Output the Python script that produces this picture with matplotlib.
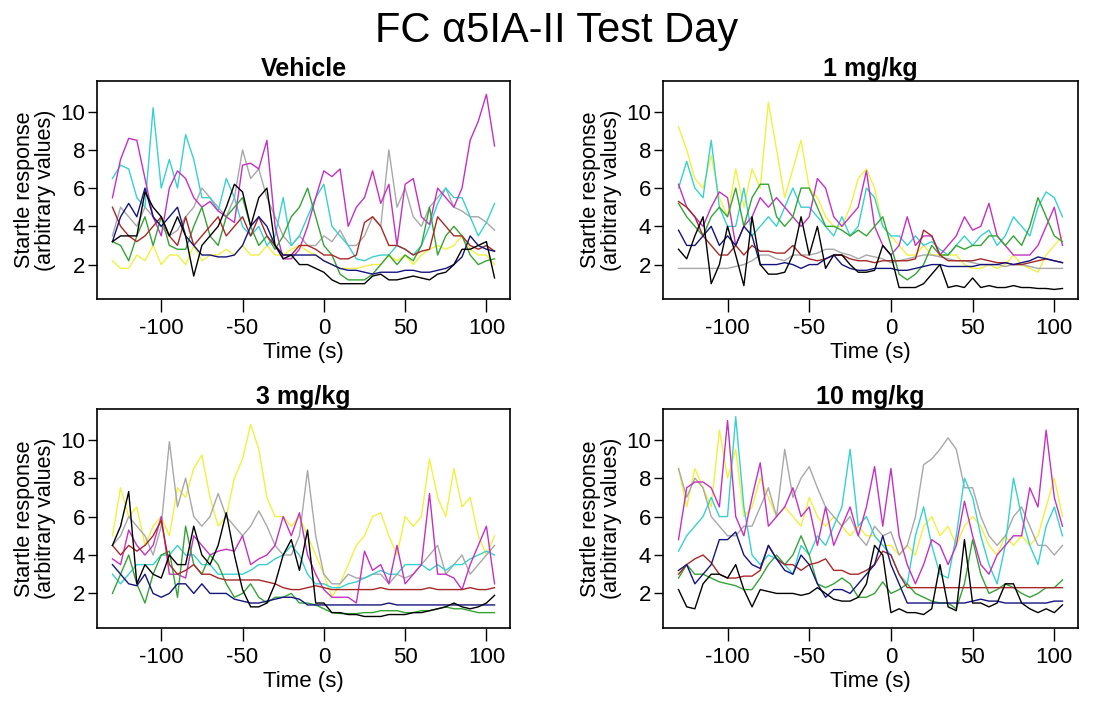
import numpy as np
import matplotlib
matplotlib.use("Agg")
import matplotlib.pyplot as plt

plt.rcParams['font.family'] = ['Liberation Sans', 'DejaVu Sans']
plt.rcParams['axes.unicode_minus'] = False
narrow = ['Liberation Sans Narrow', 'Liberation Sans', 'DejaVu Sans']

# time axis (s), one sample every 5 s
time_s = list(range(-130, 106, 5))

panel_titles = ["Vehicle", "1 mg/kg", "3 mg/kg", "10 mg/kg"]
series_names = ["yellow", "grey", "cyan", "magenta", "green", "darkred", "navy", "black"]
series_colors = ["#F2F040", "#A8A8A8", "#38D0D0", "#C232C2", "#36A336", "#A82828", "#14147E", "#000000"]

# ---- Vehicle ----
veh_yellow = [2.2, 1.8, 1.8, 2.5, 2.2, 3.0, 2.0, 2.5, 2.5, 2.0, 3.0, 2.2, 2.5, 2.5, 2.8, 2.5,
              3.0, 2.5, 2.5, 3.0, 2.5, 2.5, 2.8, 3.0, 2.7, 2.5, 2.2, 2.0, 1.8, 1.8, 1.8, 1.9,
              2.0, 2.0, 2.5, 2.2, 2.5, 2.0, 2.5, 2.8, 3.0, 2.8, 3.0, 3.5, 2.8, 2.5, 2.5, 2.0]
veh_grey = [3.5, 5.0, 4.5, 4.0, 5.0, 4.5, 4.0, 3.5, 3.8, 4.5, 5.0, 6.0, 5.5, 5.0, 4.5, 5.5,
            8.0, 6.5, 7.0, 5.5, 4.5, 3.5, 3.0, 3.5, 3.0, 3.0, 3.5, 3.2, 3.8, 3.0, 3.0, 3.5,
            4.5, 4.0, 8.0, 5.0, 6.0, 4.5, 4.0, 5.0, 5.5, 6.0, 5.0, 4.8, 4.5, 4.5, 4.2, 3.8]
veh_cyan = [6.5, 7.2, 7.0, 5.5, 5.0, 10.2, 6.0, 7.5, 6.0, 8.8, 7.5, 5.5, 5.5, 4.8, 6.5, 5.5,
            4.0, 3.5, 4.0, 3.0, 3.5, 5.5, 3.0, 3.5, 4.5, 5.5, 6.2, 4.0, 3.5, 3.0, 2.3, 2.2,
            2.4, 2.5, 2.5, 3.0, 2.8, 2.5, 3.0, 4.0, 5.2, 6.0, 5.5, 5.5, 4.5, 3.5, 4.2, 5.2]
veh_magenta = [5.5, 7.5, 8.6, 8.5, 6.5, 4.5, 3.5, 6.0, 6.9, 6.5, 5.5, 5.0, 5.3, 4.8, 4.5, 4.2,
               7.2, 7.3, 7.0, 8.5, 4.0, 2.3, 2.3, 2.8, 4.0, 5.5, 6.9, 6.6, 7.0, 4.0, 5.0, 5.5,
               6.9, 5.2, 6.2, 3.0, 6.2, 6.5, 4.5, 4.1, 6.0, 5.5, 5.0, 6.0, 8.5, 9.5, 10.9, 8.2]
veh_green = [3.2, 3.0, 2.2, 3.5, 4.5, 3.0, 4.5, 3.0, 2.8, 2.8, 4.0, 5.0, 3.5, 3.0, 4.5, 5.0,
             5.5, 4.0, 3.0, 3.5, 2.8, 3.5, 4.5, 5.0, 6.0, 4.5, 3.0, 2.5, 1.5, 1.2, 1.2, 1.2,
             1.5, 2.0, 2.5, 2.0, 2.5, 2.2, 3.0, 5.0, 2.5, 3.5, 4.0, 3.5, 2.5, 2.0, 2.2, 2.3]
veh_darkred = [5.0, 4.0, 3.5, 3.2, 3.5, 4.0, 4.5, 3.5, 3.0, 4.5, 3.0, 3.5, 4.0, 4.5, 3.5, 4.0,
               4.5, 3.5, 4.5, 3.5, 3.0, 2.5, 2.5, 3.0, 3.0, 2.8, 2.5, 2.5, 2.3, 2.3, 2.5, 4.2,
               4.5, 4.0, 3.0, 3.0, 2.8, 2.5, 2.7, 2.8, 4.5, 4.0, 3.5, 3.5, 3.0, 2.8, 3.0, 2.7]
veh_navy = [3.2, 4.5, 5.2, 4.5, 6.0, 4.5, 4.0, 4.5, 5.0, 3.5, 3.0, 2.5, 2.5, 2.4, 2.4, 2.5,
            3.0, 4.0, 4.5, 4.0, 3.0, 2.5, 2.5, 2.5, 2.5, 2.5, 2.2, 2.0, 1.8, 1.7, 1.7, 1.6,
            1.5, 1.6, 1.6, 1.6, 1.7, 1.7, 1.6, 1.6, 1.7, 1.8, 2.0, 2.4, 3.5, 3.0, 2.8, 2.7]
veh_black = [3.2, 3.5, 3.5, 3.5, 5.8, 5.0, 4.5, 3.5, 4.5, 3.5, 1.4, 3.0, 3.5, 4.0, 5.0, 6.2,
             5.8, 4.0, 5.5, 6.0, 3.0, 2.3, 2.5, 2.0, 2.0, 1.8, 1.6, 1.2, 1.0, 1.0, 1.0, 1.0,
             1.4, 1.5, 1.2, 1.2, 1.3, 1.4, 1.3, 1.2, 1.5, 1.6, 2.0, 2.8, 2.8, 3.0, 3.2, 1.3]

# ---- 1 mg/kg ----
d1_yellow = [9.2, 8.0, 6.5, 6.0, 7.7, 5.5, 4.5, 7.0, 5.0, 7.0, 6.0, 10.5, 8.0, 5.5, 7.0, 8.5,
             6.0, 5.5, 4.5, 4.0, 4.0, 5.0, 6.5, 7.0, 6.0, 4.0, 3.5, 3.0, 2.5, 2.5, 3.0, 2.5,
             2.5, 2.5, 2.5, 2.0, 1.8, 1.8, 2.0, 1.8, 2.0, 2.5, 2.0, 1.8, 1.6, 2.5, 3.0, 3.5]
d1_grey = [1.8, 1.8, 1.8, 1.8, 1.8, 1.8, 1.8, 1.9, 2.0, 2.2, 2.5, 2.5, 2.3, 2.2, 2.5, 2.5,
           2.5, 2.6, 2.8, 2.8, 2.6, 2.5, 2.3, 2.5, 2.4, 2.3, 2.1, 2.2, 2.3, 2.4, 2.5, 2.5,
           2.4, 2.3, 2.2, 2.2, 2.1, 2.0, 2.0, 2.0, 1.9, 2.0, 2.0, 1.9, 1.8, 1.8, 1.8, 1.8]
d1_cyan = [6.0, 7.4, 6.0, 5.5, 8.5, 5.0, 4.0, 4.0, 6.0, 3.5, 4.0, 4.5, 4.0, 5.0, 6.0, 5.0,
           5.0, 4.5, 4.0, 3.5, 4.5, 3.5, 4.0, 6.0, 5.5, 4.0, 3.5, 3.5, 3.0, 3.5, 3.0, 3.2,
           2.8, 2.5, 3.0, 3.5, 3.0, 3.5, 3.8, 3.0, 3.5, 4.5, 4.0, 3.5, 5.0, 5.8, 5.5, 4.5]
d1_magenta = [6.2, 5.0, 4.5, 4.0, 5.0, 5.8, 5.5, 3.0, 4.0, 4.5, 5.5, 5.0, 5.5, 5.0, 4.5, 4.0,
              4.5, 6.5, 6.0, 4.5, 4.0, 4.5, 5.0, 6.9, 4.0, 3.0, 2.5, 3.0, 4.5, 3.0, 3.5, 3.5,
              2.5, 3.0, 3.5, 4.5, 3.8, 4.0, 5.2, 3.5, 3.0, 2.5, 2.5, 2.5, 3.0, 4.0, 5.0, 3.0]
d1_green = [5.2, 4.5, 4.0, 3.5, 4.5, 5.0, 4.5, 6.0, 4.0, 5.5, 6.2, 6.2, 4.5, 4.0, 4.5, 6.0,
            6.0, 5.0, 4.0, 4.0, 3.8, 3.5, 3.8, 3.5, 4.0, 4.5, 3.0, 1.5, 1.2, 1.5, 2.0, 3.0,
            2.5, 2.5, 3.0, 2.8, 3.0, 3.0, 3.5, 3.5, 3.0, 3.5, 3.0, 4.0, 5.5, 4.5, 3.5, 3.2]
d1_darkred = [5.3, 5.0, 4.5, 3.5, 3.0, 2.5, 2.5, 3.0, 2.5, 3.0, 2.7, 2.7, 2.6, 2.6, 3.0, 2.5,
              2.3, 2.2, 2.3, 2.5, 2.5, 2.3, 2.2, 2.2, 2.1, 2.2, 2.2, 2.2, 2.2, 2.3, 3.8, 3.5,
              2.5, 2.2, 2.2, 2.2, 2.2, 2.3, 2.2, 2.1, 2.1, 2.0, 2.0, 2.1, 2.2, 2.3, 2.2, 2.1]
d1_navy = [3.8, 3.0, 3.0, 3.5, 4.0, 3.0, 3.5, 3.0, 4.0, 3.5, 2.0, 2.0, 2.0, 2.1, 2.0, 1.8,
           2.0, 2.0, 2.3, 2.5, 2.0, 1.8, 1.7, 1.7, 1.8, 1.8, 1.8, 1.7, 1.7, 1.8, 1.9, 2.0,
           2.0, 1.9, 1.9, 1.9, 1.9, 2.0, 2.0, 2.0, 2.1, 2.0, 2.1, 2.2, 2.4, 2.3, 2.2, 2.1]
d1_black = [2.8, 2.3, 3.5, 4.5, 1.0, 2.0, 4.0, 2.5, 0.9, 4.5, 2.0, 1.5, 1.5, 1.6, 2.5, 4.5,
            2.5, 4.0, 1.8, 2.5, 2.5, 2.0, 1.6, 1.6, 1.7, 3.0, 2.5, 0.8, 0.8, 0.8, 1.0, 1.5,
            2.0, 0.8, 0.9, 0.8, 1.3, 0.8, 0.9, 0.8, 0.8, 0.9, 0.8, 0.8, 0.75, 0.75, 0.7, 0.75]

# ---- 3 mg/kg ----
d3_yellow = [5.0, 7.5, 6.0, 6.5, 4.5, 5.5, 6.0, 5.0, 7.5, 7.0, 8.5, 9.2, 7.0, 5.5, 6.0, 8.0,
             9.0, 10.8, 9.5, 7.0, 6.0, 6.0, 5.5, 6.0, 5.0, 4.0, 3.0, 1.8, 2.5, 3.5, 4.5, 5.0,
             6.0, 6.2, 5.0, 4.0, 6.0, 5.5, 6.0, 9.0, 7.0, 6.0, 8.5, 6.5, 7.0, 5.0, 4.0, 5.0]
d3_grey = [4.5, 5.0, 6.0, 5.5, 5.0, 4.0, 5.5, 9.9, 6.5, 8.0, 6.0, 5.5, 6.0, 7.2, 6.0, 5.5,
           5.0, 5.5, 6.3, 5.5, 4.5, 4.0, 4.0, 5.0, 8.4, 5.0, 3.0, 2.5, 2.5, 3.0, 2.8, 2.8,
           3.0, 3.0, 2.5, 3.0, 2.8, 3.0, 3.5, 4.0, 4.5, 3.0, 3.5, 4.0, 3.0, 3.5, 4.0, 4.5]
d3_cyan = [3.0, 2.5, 3.0, 3.5, 3.5, 3.5, 4.0, 4.0, 4.5, 4.0, 4.0, 3.5, 3.5, 3.0, 3.0, 3.0,
           3.0, 3.2, 3.5, 3.5, 3.8, 4.0, 4.5, 4.0, 3.0, 2.5, 2.5, 2.3, 2.3, 2.5, 2.6, 2.8,
           3.0, 3.2, 3.0, 3.0, 3.5, 3.5, 3.5, 3.2, 3.5, 3.2, 3.5, 3.5, 3.8, 4.0, 4.2, 4.0]
d3_magenta = [3.8, 3.5, 5.3, 4.5, 4.0, 4.5, 6.0, 3.0, 3.0, 2.8, 5.0, 4.5, 4.0, 4.2, 4.3, 4.2,
              5.0, 3.5, 3.8, 4.0, 4.5, 6.0, 5.0, 6.2, 4.0, 3.0, 2.2, 1.8, 1.8, 1.8, 1.5, 4.2,
              3.2, 3.5, 2.5, 4.5, 2.5, 3.0, 3.5, 7.2, 3.0, 3.0, 2.8, 2.2, 3.5, 4.5, 5.5, 2.5]
d3_green = [2.0, 3.0, 4.0, 2.5, 1.5, 3.0, 4.0, 4.2, 1.8, 5.5, 3.5, 3.0, 4.0, 3.5, 2.5, 1.8,
            2.0, 2.5, 1.8, 1.5, 1.8, 1.8, 2.0, 1.5, 1.5, 1.4, 1.2, 1.0, 0.95, 0.95, 0.95, 1.0,
            1.0, 1.1, 1.1, 1.1, 1.0, 1.0, 1.1, 1.1, 1.2, 1.3, 1.2, 1.2, 1.1, 1.0, 1.0, 1.0]
d3_darkred = [4.5, 4.0, 4.5, 4.2, 4.5, 5.0, 5.8, 3.5, 3.0, 3.2, 3.5, 3.0, 3.0, 2.8, 2.7, 2.7,
              2.7, 2.7, 2.7, 2.6, 2.5, 2.3, 2.2, 2.2, 2.3, 2.4, 2.3, 2.2, 2.2, 2.2, 2.2, 2.2,
              2.2, 2.3, 2.2, 2.2, 2.2, 2.2, 2.2, 2.3, 2.2, 2.2, 2.2, 2.2, 2.3, 2.2, 2.2, 2.3]
d3_navy = [3.5, 3.0, 2.5, 2.4, 3.0, 2.0, 1.8, 2.0, 2.5, 2.5, 2.0, 2.5, 2.0, 2.0, 2.0, 1.7,
           1.6, 1.5, 1.5, 1.6, 1.7, 1.8, 1.8, 1.7, 1.4, 1.4, 1.4, 1.4, 1.4, 1.4, 1.4, 1.4,
           1.4, 1.4, 1.5, 1.4, 1.4, 1.4, 1.4, 1.4, 1.4, 1.4, 1.4, 1.4, 1.4, 1.4, 1.4, 1.4]
d3_black = [4.5, 5.5, 7.3, 2.5, 3.5, 3.0, 2.8, 4.0, 3.5, 3.5, 5.5, 4.0, 3.5, 4.5, 6.2, 4.0,
            2.2, 1.3, 1.3, 1.5, 2.5, 4.0, 4.8, 3.2, 5.3, 1.5, 1.5, 1.0, 1.0, 0.9, 0.9, 0.8,
            0.8, 0.8, 0.9, 0.9, 0.9, 1.0, 1.0, 1.1, 1.2, 1.3, 1.5, 1.3, 1.2, 1.3, 1.5, 1.9]

# ---- 10 mg/kg ----
d10_yellow = [8.5, 6.5, 8.5, 7.5, 6.5, 10.5, 8.0, 9.5, 6.0, 6.5, 8.0, 7.0, 6.0, 6.5, 6.0, 5.5,
              7.0, 6.0, 5.5, 6.0, 5.5, 5.0, 5.5, 5.0, 5.0, 4.5, 4.5, 4.0, 4.5, 4.0, 5.5, 6.0,
              5.0, 5.5, 4.5, 5.5, 6.0, 5.5, 4.5, 4.0, 5.0, 4.5, 5.0, 4.5, 5.0, 6.5, 8.0, 6.0]
d10_grey = [8.5, 7.0, 8.0, 7.5, 6.0, 5.5, 5.0, 5.0, 5.5, 5.5, 6.5, 7.5, 6.0, 9.5, 7.0, 8.0,
            8.6, 7.5, 6.5, 6.0, 5.5, 6.0, 5.0, 4.5, 5.5, 5.0, 5.2, 4.0, 4.5, 6.0, 8.7, 9.0,
            9.5, 10.1, 9.5, 7.5, 7.5, 6.0, 5.0, 4.5, 5.0, 6.0, 6.5, 5.5, 4.5, 4.5, 4.0, 4.5]
d10_cyan = [4.2, 5.0, 5.5, 6.0, 7.0, 6.0, 6.0, 11.2, 6.5, 4.0, 3.5, 4.0, 3.8, 3.5, 3.0, 4.5,
            4.0, 5.0, 4.5, 5.5, 6.5, 9.5, 5.5, 6.0, 5.0, 4.5, 4.0, 3.0, 2.5, 5.0, 6.5, 4.5,
            3.0, 2.8, 5.0, 8.0, 7.0, 5.0, 3.5, 2.5, 4.5, 8.0, 6.0, 4.5, 3.5, 5.5, 6.5, 5.0]
d10_magenta = [4.8, 7.5, 7.8, 7.8, 7.5, 6.5, 11.0, 6.0, 5.0, 7.0, 8.8, 5.5, 6.0, 6.5, 7.5, 6.0,
               6.5, 4.5, 6.5, 4.5, 5.5, 6.5, 5.0, 6.5, 8.6, 5.5, 8.5, 5.0, 3.5, 2.5, 3.5, 4.8,
               4.5, 3.5, 4.5, 6.8, 5.0, 3.5, 3.0, 4.0, 4.5, 5.0, 5.0, 7.5, 6.5, 10.5, 7.0, 5.5]
d10_green = [2.8, 3.5, 3.0, 3.0, 2.8, 2.6, 2.5, 2.4, 2.2, 2.2, 2.8, 3.5, 4.0, 3.5, 4.0, 5.0,
             4.0, 2.5, 2.3, 2.5, 2.8, 2.5, 1.8, 1.8, 2.0, 2.6, 2.0, 2.2, 2.5, 2.0, 1.8, 1.6,
             1.5, 1.5, 1.2, 2.5, 4.8, 3.0, 2.0, 2.2, 2.5, 2.3, 2.0, 1.8, 2.0, 2.3, 2.3, 2.7]
d10_darkred = [3.0, 3.5, 3.8, 4.0, 3.6, 3.0, 2.8, 2.8, 2.9, 2.9, 3.2, 4.5, 3.8, 3.5, 3.5, 3.2,
               3.5, 3.6, 3.8, 3.2, 3.2, 3.0, 3.0, 3.2, 3.5, 4.2, 4.0, 3.0, 2.3, 2.3, 2.3, 2.3,
               2.3, 2.3, 2.3, 2.3, 2.3, 2.3, 2.3, 2.3, 2.3, 2.3, 2.3, 2.3, 2.3, 2.3, 2.3, 2.3]
d10_navy = [3.2, 3.5, 2.5, 3.0, 3.5, 4.8, 4.8, 5.2, 4.0, 3.5, 3.3, 4.5, 3.8, 3.2, 3.0, 4.0,
            3.5, 2.5, 1.8, 2.2, 2.2, 2.0, 2.5, 3.0, 3.5, 5.0, 3.5, 2.5, 1.5, 1.5, 1.5, 1.5,
            1.5, 1.5, 1.5, 1.5, 1.6, 1.7, 1.6, 1.6, 1.5, 1.5, 1.5, 1.5, 1.5, 1.5, 1.6, 1.6]
d10_black = [2.2, 1.3, 1.2, 2.5, 3.0, 3.0, 2.8, 3.5, 2.2, 1.3, 2.2, 2.1, 2.0, 2.0, 2.0, 1.9,
             2.0, 2.3, 2.0, 1.7, 1.6, 1.6, 1.8, 2.5, 4.5, 4.0, 1.0, 1.2, 1.0, 1.0, 0.9, 1.2,
             3.5, 1.3, 1.1, 4.8, 1.5, 1.5, 1.3, 1.5, 2.5, 2.5, 1.5, 1.2, 1.0, 1.2, 1.0, 1.4]

panels = [
    [veh_yellow, veh_grey, veh_cyan, veh_magenta, veh_green, veh_darkred, veh_navy, veh_black],
    [d1_yellow, d1_grey, d1_cyan, d1_magenta, d1_green, d1_darkred, d1_navy, d1_black],
    [d3_yellow, d3_grey, d3_cyan, d3_magenta, d3_green, d3_darkred, d3_navy, d3_black],
    [d10_yellow, d10_grey, d10_cyan, d10_magenta, d10_green, d10_darkred, d10_navy, d10_black],
]

W, H = 1114, 707
fig = plt.figure(figsize=(W / 100, H / 100), dpi=100)
fig.suptitle("FC \u03b15IA-II Test Day", fontsize=30, y=1 - 31 / H, va='center')

# axes boxes in pixels: left, top, right, bottom
boxes = [(97, 81, 510, 299), (663, 81, 1078, 299),
         (97, 409, 510, 628), (663, 409, 1078, 628)]

for k, (l, t, r, b) in enumerate(boxes):
    ax = fig.add_axes([l / W, 1 - b / H, (r - l) / W, (b - t) / H])
    for vals, col in zip(panels[k], series_colors):
        ax.plot(time_s, vals, color=col, lw=1.0)
    ax.set_xlim(-139.5, 114.5)
    ax.set_ylim(0.2, 11.6)
    ax.set_xticks([-100, -50, 0, 50, 100])
    ax.set_yticks([2, 4, 6, 8, 10])
    ax.tick_params(axis='x', length=9, width=1, labelsize=16, pad=5)
    ax.tick_params(axis='y', length=6.5, width=1, labelsize=16, pad=2)
    for lab in ax.get_xticklabels() + ax.get_yticklabels():
        lab.set_family(narrow)
    for sp in ax.spines.values():
        sp.set_linewidth(1.2)
    ax.set_title(panel_titles[k], fontsize=18, fontweight='bold', pad=0)
    ax.set_xlabel("Time (s)", fontsize=16, family=narrow, labelpad=2)
    ax.set_ylabel("Startle response\n(arbitrary values)", fontsize=15.5, family=narrow,
                  labelpad=3, linespacing=1.0)

fig.savefig("out.png", dpi=100)
